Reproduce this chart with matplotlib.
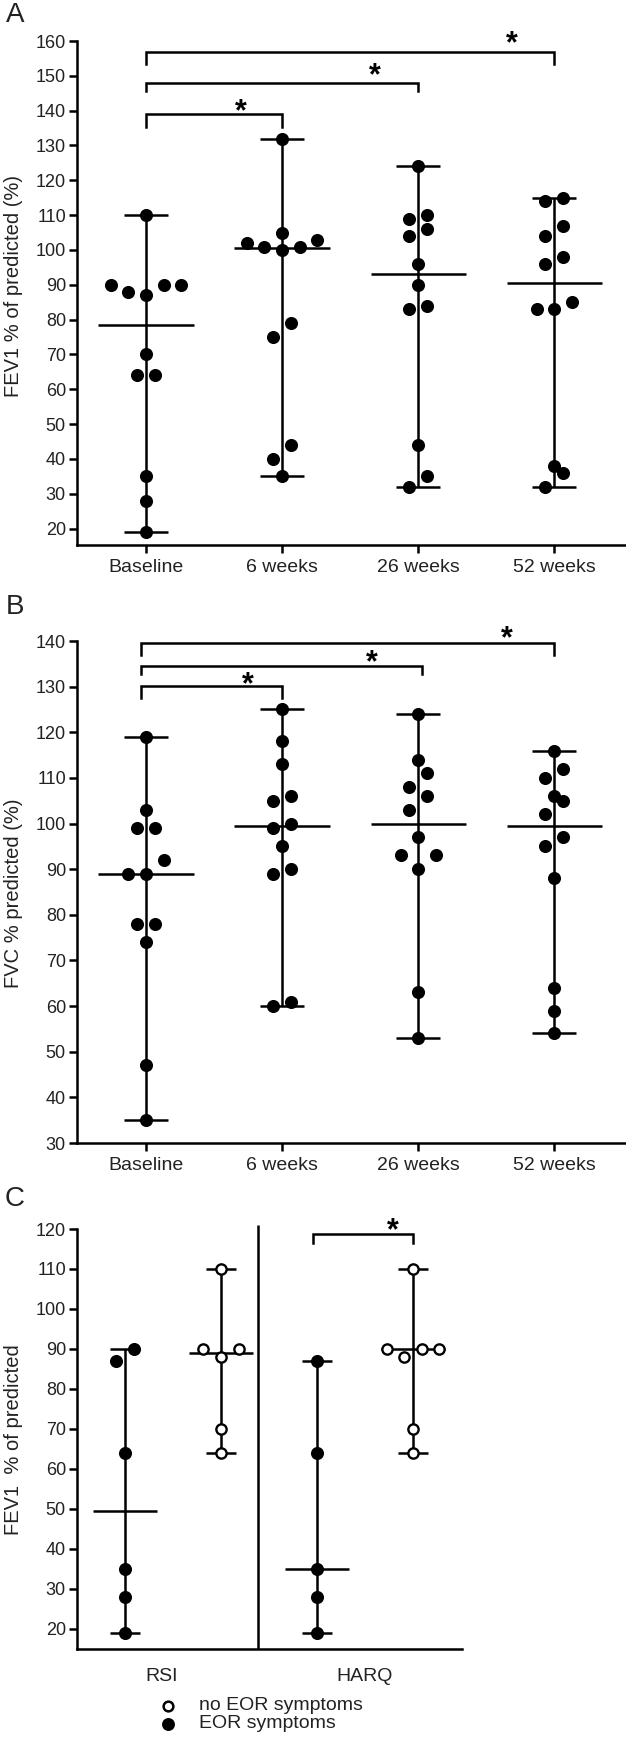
import numpy as np
import matplotlib.pyplot as plt
from matplotlib.lines import Line2D

plt.rcParams['font.family'] = ['Liberation Sans', 'DejaVu Sans']

# ---- data ----
groups = ['Baseline', '6 weeks', '26 weeks', '52 weeks']

fev1_baseline = [110, 90, 88, 87, 90, 90, 70, 64, 64, 35, 28, 19]
fev1_6wk = [132, 102, 101, 105, 100, 101, 103, 79, 75, 44, 40, 35]
fev1_26wk = [124, 109, 110, 106, 104, 96, 90, 83, 84, 44, 35, 32]
fev1_52wk = [115, 114, 107, 104, 98, 96, 85, 83, 83, 38, 36, 32]

fvc_baseline = [119, 103, 99, 99, 92, 89, 89, 78, 78, 74, 47, 35]
fvc_6wk = [125, 118, 113, 105, 106, 100, 99, 95, 90, 89, 60, 61]
fvc_26wk = [124, 114, 111, 108, 106, 103, 97, 93, 93, 90, 63, 53]
fvc_52wk = [116, 112, 110, 106, 105, 102, 97, 95, 88, 64, 59, 54]

c_groups = ['RSI', 'HARQ']
rsi_eor = [90, 87, 64, 35, 28, 19]
rsi_no_eor = [110, 90, 90, 88, 70, 64]
harq_eor = [87, 64, 35, 28, 19]
harq_no_eor = [110, 90, 90, 90, 88, 70, 64]
legend_labels = ['no EOR symptoms', 'EOR symptoms']

LW = 1.8
TXT = '#222222'
W, H = 626, 1737


def swarm(vals, thr, step):
    # rows of nearby values, spread symmetrically, centre first
    vals = np.asarray(vals, float)
    order = np.argsort(vals, kind='stable')
    offs = np.zeros(len(vals))
    i = 0
    while i < len(order):
        j = i
        while j < len(order) and vals[order[j]] - vals[order[i]] <= thr:
            j += 1
        n = j - i
        if n % 2:
            slots = [0] + [s for k in range(1, n) for s in (-2 * k, 2 * k)]
        else:
            slots = [s for k in range(n) for s in (-(2 * k + 1), 2 * k + 1)]
        for k, m in enumerate(order[i:j]):
            offs[m] = slots[k] * step
        i = j
    return offs


def column(ax, x, vals, thr, step, med_hw, cap_hw, filled=True):
    vals = np.asarray(vals, float)
    lo, hi, med = vals.min(), vals.max(), np.median(vals)
    kw = dict(color='k', lw=LW, solid_capstyle='butt', zorder=2, clip_on=False)
    ax.plot([x, x], [lo, hi], **kw)
    ax.plot([x - cap_hw, x + cap_hw], [lo, lo], **kw)
    ax.plot([x - cap_hw, x + cap_hw], [hi, hi], **kw)
    ax.plot([x - med_hw, x + med_hw], [med, med], **kw)
    offs = swarm(vals, thr, step)
    if filled:
        ax.plot(x + offs, vals, 'o', ms=8.4, mfc='k', mec='k', ls='none', zorder=3, clip_on=False)
    else:
        ax.plot(x + offs, vals, 'o', ms=7.4, mfc='white', mec='k', mew=1.7, ls='none',
                zorder=3, clip_on=False)


def bracket(ax, x1, x2, y, y_leg, star_x, star_y):
    ax.plot([x1, x1, x2, x2], [y_leg, y, y, y_leg], color='k', lw=LW, clip_on=False,
            solid_joinstyle='miter')
    ax.annotate('*', xy=(star_x, star_y), xytext=(0, -12), textcoords='offset points',
                ha='center', va='baseline', fontsize=22, fontweight='bold', color='k',
                annotation_clip=False)


def style(ax):
    for s in ['top', 'right']:
        ax.spines[s].set_visible(False)
    for s in ['left', 'bottom']:
        ax.spines[s].set_linewidth(LW)
    ax.tick_params(axis='y', length=6, width=LW, labelsize=13, labelcolor=TXT, pad=2)
    ax.tick_params(axis='x', length=5.5, width=LW, labelsize=14, labelcolor=TXT, pad=4.5)


def px_ax(l, t, r, b):
    return fig.add_axes([l / W, 1 - b / H, (r - l) / W, (b - t) / H])


fig = plt.figure(figsize=(W / 100, H / 100), dpi=100)

# ---- panel A ----
axA = px_ax(77, 41, 625, 545)
axA.set_xlim(-0.507, 3.52)
axA.set_ylim(15.3, 160)
thrA = 15.5 / (504 / 145)
for i, v in enumerate([fev1_baseline, fev1_6wk, fev1_26wk, fev1_52wk]):
    column(axA, i, v, thrA, 0.0647, 0.35, 0.16)
axA.set_xticks(range(4))
axA.set_xticklabels(groups)
axA.set_yticks(np.arange(20, 161, 10))
style(axA)
bracket(axA, 0, 3, 156.9, 153.3, 2.69, 161.5)
bracket(axA, 0, 2, 148.0, 145.6, 1.685, 152.5)
bracket(axA, 0, 1, 138.9, 135.3, 0.694, 142.0)

# ---- panel B ----
axB = px_ax(77, 641, 625, 1143)
axB.set_xlim(-0.507, 3.52)
axB.set_ylim(30, 140)
thrB = 15.5 / (503 / 110)
for i, v in enumerate([fvc_baseline, fvc_6wk, fvc_26wk, fvc_52wk]):
    column(axB, i, v, thrB, 0.0647, 0.35, 0.16)
axB.set_xticks(range(4))
axB.set_xticklabels(groups)
axB.set_yticks(np.arange(30, 141, 10))
style(axB)
bracket(axB, -0.04, 3.0, 139.6, 136.9, 2.65, 142.2)
bracket(axB, -0.04, 2.03, 134.6, 132.7, 1.66, 137.1)
bracket(axB, -0.04, 1.0, 130.1, 127.6, 0.75, 132.1)

# ---- panel C ----
axC = px_ax(77, 1229, 462, 1648.5)
axC.set_xlim(-0.5, 3.51)
axC.set_ylim(15, 120)
thrC = 15.5 / (419.5 / 105)
for i, (v, f) in enumerate([(rsi_eor, True), (rsi_no_eor, False),
                            (harq_eor, True), (harq_no_eor, False)]):
    column(axC, i, v, thrC, 0.0917, 0.33, 0.16, filled=f)
axC.set_yticks(np.arange(20, 121, 10))
style(axC)
axC.set_xticks([0.385, 2.5])
axC.set_xticklabels(c_groups)
axC.tick_params(axis='x', length=0, pad=14)
axC.plot([1.385, 1.385], [15, 121.1], color='k', lw=LW, clip_on=False, solid_capstyle='butt')
bracket(axC, 1.96, 3.0, 118.8, 116.4, 2.79, 121.7)

# legend for panel C
for yy, filled, lab in zip([1706, 1724], [False, True], legend_labels):
    fig.add_artist(Line2D([168 / W], [1 - yy / H], transform=fig.transFigure, marker='o',
                          ms=7 if not filled else 7.5, mfc='k' if filled else 'white',
                          mec='k', mew=1.8, ls='none'))
    fig.text(199 / W, 1 - yy / H, lab, fontsize=14, color=TXT, ha='left', va='center')

# y labels and panel letters
for yy, lab in zip([286, 893, 1440],
                   ['FEV1 % of predicted (%)', 'FVC % predicted (%)', 'FEV1  % of predicted']):
    fig.text(14 / W, 1 - yy / H, lab, rotation=90, fontsize=14.5, color=TXT,
             ha='center', va='center')
for yy, lab in zip([15, 607, 1199], ['A', 'B', 'C']):
    fig.text(15 / W, 1 - yy / H, lab, fontsize=20, color=TXT, ha='center', va='center')

fig.savefig('out.png', dpi=100)
